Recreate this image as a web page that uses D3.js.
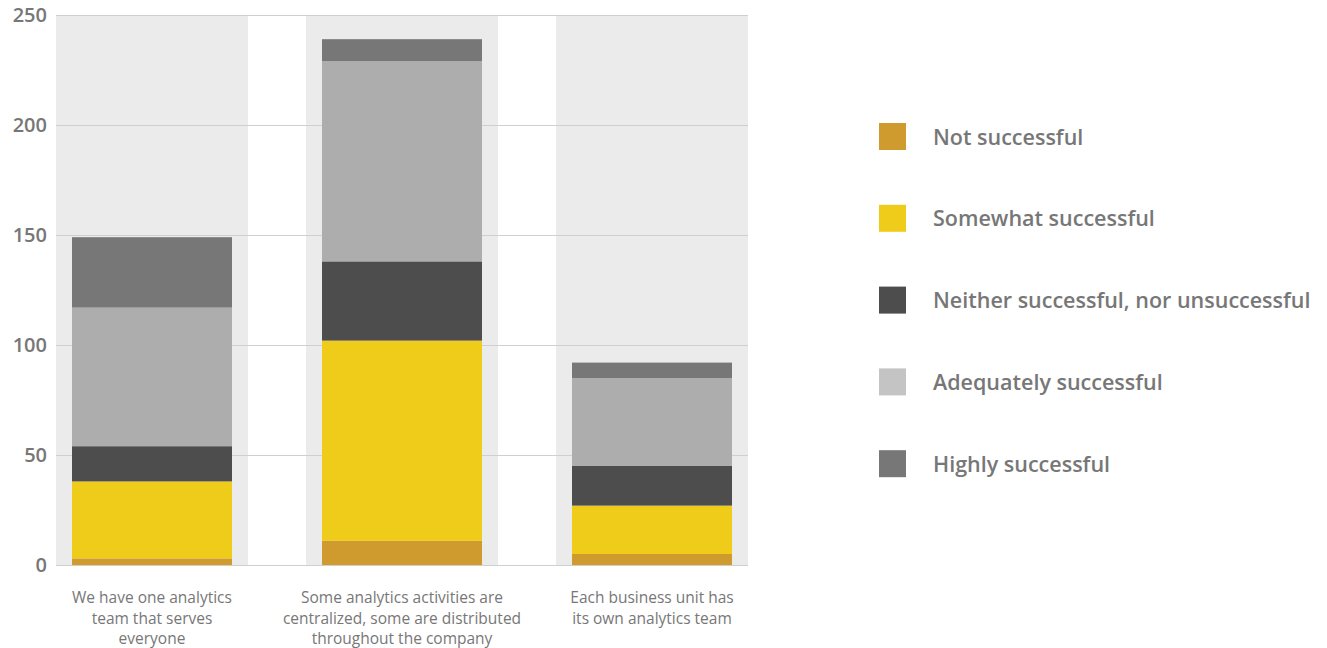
<!DOCTYPE html>
<html>
<head>
<meta charset="utf-8">
<script src="https://cdn.jsdelivr.net/npm/d3@7.9.0/dist/d3.min.js"></script>
<style>
    body { margin: 0; background: #fff; }
    svg { display: block; font-family: 'Open Sans', sans-serif; }
</style>
</head>
<body>
<div id="chart"></div>
<script>
// Categories (x axis), one label line per entry
const categories = [
    ['We have one analytics', 'team that serves', 'everyone'],
    ['Some analytics activities are', 'centralized, some are distributed', 'throughout the company'],
    ['Each business unit has', 'its own analytics team'],
];

// Series, bottom to top
const seriesNames = [
    'Not successful',
    'Somewhat successful',
    'Neither successful, nor unsuccessful',
    'Adequately successful',
    'Highly successful',
];

const notSuccessful = [3, 11, 5];
const somewhatSuccessful = [35, 91, 22];
const neitherSuccessful = [16, 36, 18];
const adequatelySuccessful = [63, 91, 40];
const highlySuccessful = [32, 10, 7];

const yTicks = [0, 50, 100, 150, 200, 250];

const barColors = ['#cf9b2e', '#f0cc1a', '#4d4d4d', '#adadae', '#777777'];
const legendColors = ['#cf9b2e', '#f0cc1a', '#4d4d4d', '#c4c4c4', '#777777'];

const width = 1327;
const height = 648;

const margin = { top: 15, right: 579, bottom: 83, left: 56 };

const usableArea = {
    top: margin.top,
    right: width - margin.right,
    bottom: height - margin.bottom,
    left: margin.left,
};

const svg = d3.select('#chart')
    .append('svg')
    .attr('width', width)
    .attr('height', height);

// build rows for d3.stack
const keys = ['not', 'somewhat', 'neither', 'adequately', 'highly'];
const table = categories.map((c, i) => ({
    idx: i,
    not: notSuccessful[i],
    somewhat: somewhatSuccessful[i],
    neither: neitherSuccessful[i],
    adequately: adequatelySuccessful[i],
    highly: highlySuccessful[i],
}));

const stacked = d3.stack().keys(keys)(table);

// Scales
const xScale = d3.scaleBand()
    .domain(d3.range(categories.length))
    .range([usableArea.left, usableArea.right])
    .paddingInner(0.232)
    .paddingOuter(0);

const yScale = d3.scaleLinear()
    .domain([0, 250])
    .range([usableArea.bottom, usableArea.top]);

const color = d3.scaleOrdinal().domain(keys).range(barColors);

// Background bands
svg.append('g')
    .selectAll('rect')
    .data(d3.range(categories.length))
    .join('rect')
    .attr('x', d => xScale(d))
    .attr('y', usableArea.top)
    .attr('width', xScale.bandwidth())
    .attr('height', usableArea.bottom - usableArea.top)
    .attr('fill', '#ebebeb');

// Gridlines
svg.append('g')
    .attr('transform', `translate(${usableArea.left}, 0)`)
    .call(
        d3.axisLeft(yScale)
            .tickValues(yTicks)
            .tickFormat('')
            .tickSize(-(usableArea.right - usableArea.left))
    )
    .call(g => g.select('.domain').remove())
    .call(g => g.selectAll('line').attr('stroke', '#cfcfcf').attr('stroke-width', 1));

// Bars
const barPad = 16;
svg.append('g')
    .selectAll('g')
    .data(stacked)
    .join('g')
    .attr('fill', d => color(d.key))
    .selectAll('rect')
    .data(d => d)
    .join('rect')
    .attr('x', d => xScale(d.data.idx) + barPad)
    .attr('width', xScale.bandwidth() - barPad * 2)
    .attr('y', d => yScale(d[1]))
    .attr('height', d => yScale(d[0]) - yScale(d[1]));

// Y axis labels
svg.append('g')
    .attr('transform', `translate(${usableArea.left}, 0)`)
    .call(d3.axisLeft(yScale).tickValues(yTicks).tickSize(0).tickPadding(9))
    .call(g => g.select('.domain').remove())
    .call(g => g.selectAll('text')
        .attr('fill', '#777')
        .attr('font-size', 20)
        .attr('font-weight', 600)
        .attr('font-family', "'Open Sans', sans-serif"));

// X labels
const xLabels = svg.append('g')
    .selectAll('text')
    .data(categories)
    .join('text')
    .attr('text-anchor', 'middle')
    .attr('fill', '#777')
    .attr('font-size', 15.5)
    .attr('font-weight', 500)
    .attr('y', usableArea.bottom + 38);

xLabels.selectAll('tspan')
    .data((d, i) => d.map(line => ({ line, i })))
    .join('tspan')
    .attr('x', d => xScale(d.i) + xScale.bandwidth() / 2)
    .attr('dy', (d, j) => j === 0 ? 0 : 20.5)
    .text(d => d.line);

// Legend
const legend = svg.append('g')
    .attr('transform', 'translate(879, 123)');

const legendItems = legend.selectAll('g')
    .data(seriesNames)
    .join('g')
    .attr('transform', (d, i) => `translate(0, ${i * 81.8})`);

legendItems.append('rect')
    .attr('width', 27)
    .attr('height', 27)
    .attr('fill', (d, i) => legendColors[i]);

legendItems.append('text')
    .attr('x', 54)
    .attr('y', 14)
    .attr('dy', '0.35em')
    .attr('fill', '#777')
    .attr('font-size', 21.5)
    .attr('font-weight', 600)
    .text(d => d);
</script>
</body>
</html>
